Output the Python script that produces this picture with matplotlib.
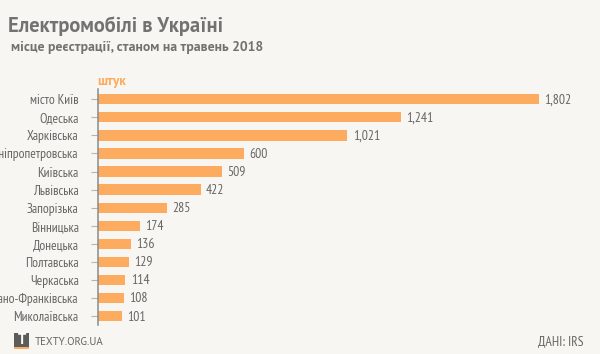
import matplotlib
matplotlib.use("Agg")
import matplotlib.pyplot as plt
from matplotlib.patches import Rectangle

categories = ["місто Київ", "Одеська", "Харківська", "Дніпропетровська", "Київська", "Львівська",
              "Запорізька", "Вінницька", "Донецька", "Полтавська", "Черкаська",
              "Івано-Франківська", "Миколаївська"]
values = [1802, 1241, 1021, 600, 509, 422, 285, 174, 136, 129, 114, 108, 101]

W, H = 600, 354
BG = "#f8f6f2"; ORANGE = "#fdab5f"; TXT = "#666664"
NARROW = ["PT Sans Narrow", "Roboto", "DejaVu Sans"]
SANS = ["PT Sans", "Lato", "DejaVu Sans"]
plt.rcParams["font.family"] = NARROW

fig = plt.figure(figsize=(W/100, H/100), dpi=100, facecolor=BG)
L, R, T, B = 97.5, 538.5, 89.5, 324.5
ax = fig.add_axes([L/W, 1-B/H, (R-L)/W, (B-T)/H])
ax.set_facecolor("none")
y = list(range(len(values)))
ax.barh(y, values, height=0.57, color=ORANGE, linewidth=0)
ax.set_xlim(0, 1802)
ax.set_ylim(12.46, -0.54)
for s in ("top", "right", "bottom"):
    ax.spines[s].set_visible(False)
ax.spines["left"].set_color("#8a8a88")
ax.spines["left"].set_linewidth(1.1)
ax.set_xticks([])
ax.set_yticks(y)
ax.set_yticklabels(categories, fontsize=9.7, color=TXT)
ax.tick_params(axis="y", length=5, width=0.8, color="#b5b5b0", pad=8.5)
for t in ax.yaxis.get_ticklines():
    t.set_linestyle((0, (1, 2)))
for yi, v in zip(y, values):
    ax.annotate(f"{v:,}", (v, yi), xytext=(3.8, -0.6), textcoords="offset points",
                va="center", ha="left", fontsize=9.8, color=TXT)

def px(x, yy):
    return x/W, 1-yy/H

fig.text(*px(8, 26), "Електромобілі в Україні", fontsize=14.8, fontweight="bold",
         family=SANS, color="#727270", va="center")
fig.text(*px(11, 48), "місце реєстрації, станом на травень 2018", fontsize=9.9, fontweight="bold",
         family=SANS, color="#727270", va="center")
fig.text(*px(97, 82), "штук", fontsize=9.6, fontweight="bold",
         family=SANS, color=ORANGE, va="center")

fig.add_artist(Rectangle(px(14, 347), 15/W, 14/H, transform=fig.transFigure, color="#5c5c5a", lw=0))
fig.add_artist(Rectangle(px(14, 349), 15/W, 2/H, transform=fig.transFigure, color=ORANGE, lw=0))
fig.text(*px(21.5, 340), "T", fontsize=10.5, fontweight="bold", family=SANS,
         color="white", ha="center", va="center")
fig.text(*px(35, 342), "TEXTY.ORG.UA", fontsize=7.8, family=SANS, color=TXT, va="center")
fig.text(*px(583, 342), "ДАНІ: IRS", fontsize=9.8, family=NARROW, color=TXT, va="center", ha="right")

fig.savefig("out.png", dpi=100, facecolor=BG)
